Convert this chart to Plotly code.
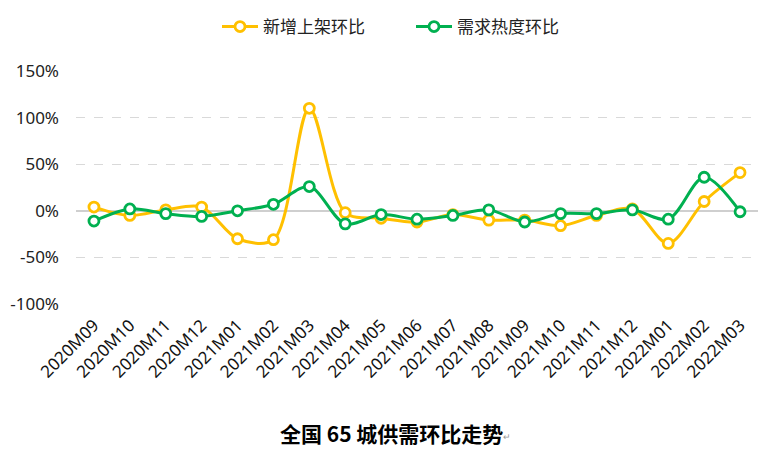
import plotly.graph_objects as go

months = ["2020M09", "2020M10", "2020M11", "2020M12", "2021M01", "2021M02", "2021M03",
          "2021M04", "2021M05", "2021M06", "2021M07", "2021M08", "2021M09", "2021M10",
          "2021M11", "2021M12", "2022M01", "2022M02", "2022M03"]
supply_mom = [0.04, -0.05, 0.01, 0.04, -0.30, -0.31, 1.10, -0.02, -0.08, -0.12, -0.04,
              -0.10, -0.10, -0.16, -0.05, 0.02, -0.35, 0.10, 0.41]
demand_mom = [-0.11, 0.02, -0.03, -0.06, 0.00, 0.07, 0.26, -0.14, -0.04, -0.09, -0.05,
              0.01, -0.12, -0.03, -0.03, 0.01, -0.09, 0.36, -0.01]
y_tickvals = [-1.0, -0.5, 0.0, 0.5, 1.0, 1.5]
y_ticktext = ["-100%", "-50%", "0%", "50%", "100%", "150%"]
series_names = ["新增上架环比", "需求热度环比"]
colors = ["#FFC000", "#00B050"]

# page body has an 8px default margin, so the figure is offset by (8, 8)
OFF = 8
W, H = 769 - OFF, 466 - OFF
L, R, T, B = 76 - OFF, 11, 71 - OFF, 162
pw, ph = W - L - R, H - T - B

fig = go.Figure()
for name, vals, c in zip(series_names, [supply_mom, demand_mom], colors):
    fig.add_trace(go.Scatter(
        x=months, y=vals, name=name, mode="lines+markers",
        line=dict(color=c, width=3, shape="spline", smoothing=0.9),
        marker=dict(symbol="circle", size=10, color="white", line=dict(color=c, width=2.8)),
    ))

fig.update_layout(
    width=W, height=H,
    margin=dict(l=L, r=R, t=T, b=B),
    plot_bgcolor="white", paper_bgcolor="white",
    font=dict(family="Noto Sans CJK SC, Noto Sans, sans-serif", color="#222222"),
    showlegend=True,
    legend=dict(orientation="h", x=(403) / W, xanchor="center", xref="container",
                y=1 - (27 - OFF) / H, yanchor="middle", yref="container",
                font=dict(size=17, color="#222222"), itemwidth=36,
                entrywidth=143),
    xaxis=dict(type="category", range=[-0.5, 18.5], tickangle=-45, showgrid=False,
               showline=False, ticks="", tickfont=dict(size=17, color="#111111",
               family="Noto Sans, sans-serif"), zeroline=False, ticklabelstandoff=7,
               automargin=False),
    yaxis=dict(range=[-1.0, 1.5], tickvals=y_tickvals, ticktext=y_ticktext, showgrid=True,
               gridcolor="#d9d9d9", griddash="dash", gridwidth=1,
               zeroline=True, zerolinecolor="#cfcfcf", zerolinewidth=1.5,
               tickfont=dict(size=17, color="#222222", family="Noto Sans, sans-serif"),
               ticklabelstandoff=16, automargin=False),
    annotations=[
        dict(text="<b>全国 65 城供需环比走势</b>", xref="paper", yref="paper",
             x=(391 - 76) / pw, y=(304 - 433) / ph, xanchor="center", yanchor="middle",
             showarrow=False, font=dict(size=21, color="#000000", family="Noto Sans CJK SC")),
        dict(text="↵", xref="paper", yref="paper", x=(501 - 76) / pw, y=(304 - 436) / ph,
             xanchor="left", yanchor="middle", showarrow=False,
             font=dict(size=9, color="#999999")),
    ],
)

fig.write_html("out.html")
